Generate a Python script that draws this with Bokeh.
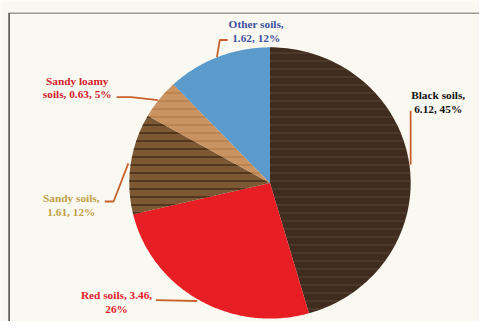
import numpy as np
from bokeh.plotting import figure
from bokeh.models import Range1d
from bokeh.core.properties import value
from bokeh.embed import file_html
from bokeh.resources import INLINE

# ---- data ----
soils = ["Black soils", "Red soils", "Sandy soils", "Sandy loamy soils", "Other soils"]
areas = [6.12, 3.46, 1.61, 0.63, 1.62]
percents = [45, 26, 12, 5, 12]
label_break = [2, 3, 2, 2, 2]  # words on first label line

fills = ["#3f2c1e", "#e81e25", "#7d5834", "#c99462", "#5b9bcc"]
hatch_cols = ["#5a4431", None, "#4a3019", "#b27a46", None]
hatch_alpha = [0.55, 0, 0.8, 0.6, 0]
label_cols = ["#111111", "#e2202a", "#c3a046", "#d3202b", "#3d4f9e"]
bg = "#f9f8f1"

# ---- layout (reference pixel coordinates, figure covers the whole image) ----
cx, cy, rx, ry = 274, 187, 143, 139
p = figure(width=479, height=321, x_range=Range1d(0, 487), y_range=Range1d(329, 0),
           output_backend="svg", toolbar_location=None, min_border=0)
p.axis.visible = False
p.grid.visible = False
p.outline_line_color = None
p.background_fill_color = bg
p.border_fill_color = bg

vals = np.array(areas)
frac = np.cumsum(np.concatenate([[0], vals])) / vals.sum()
for i in range(len(vals)):
    t = np.linspace(np.pi / 2 - frac[i] * 2 * np.pi, np.pi / 2 - frac[i + 1] * 2 * np.pi, 120)
    xs = np.concatenate([[cx], cx + rx * np.cos(t)])
    ys = np.concatenate([[cy], cy - ry * np.sin(t)])
    kw = {}
    if hatch_cols[i]:
        kw = dict(hatch_pattern="horizontal_line", hatch_color=hatch_cols[i],
                  hatch_scale=8, hatch_weight=2, hatch_alpha=hatch_alpha[i])
    p.patch(xs, ys, fill_color=fills[i], line_color=None, **kw)

# frame
p.segment(x0=[8, 8.75], y0=[13, 13], x1=[487, 8.75], y1=[13, 329],
          line_color=["#9b9b90", "#4a4a45"], line_width=1.5)

# leader lines
lc = "#c8612b"
p.multi_line(xs=[[231, 223, 220], [118, 133, 160], [106, 115, 130], [158, 200], [417, 417]],
             ys=[[40.5, 40.5, 58], [99, 99, 102], [206, 206, 167], [307, 308], [113, 168]],
             line_color=lc, line_width=1.8)

# labels
label_x = [445, 118, 72, 78, 260]
label_y = [104, 309, 209.5, 89, 31]
texts = []
for name, a, pc, nb in zip(soils, areas, percents, label_break):
    words = f"{name}, {a:.2f}, {pc}%".split(" ")
    texts.append(" ".join(words[:nb]) + "\n" + " ".join(words[nb:]))
p.text(x=label_x, y=label_y, text=texts, text_color=label_cols,
       text_font=value("Liberation Serif"), text_font_style="bold",
       text_font_size="11.3px", text_align="center", text_baseline="middle",
       text_line_height=1.13)

html = file_html(p, INLINE)
html = html.replace("<body>", f'<body style="background:{bg}">', 1)
open("out.html", "w").write(html)
